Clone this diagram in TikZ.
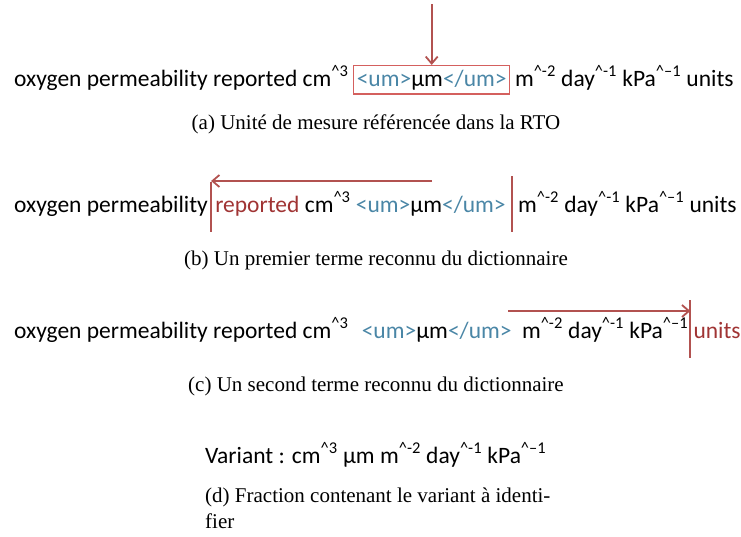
\documentclass[tikz,border=0pt]{standalone}
\usepackage{fontspec}
\setmainfont{Liberation Serif}
\newfontfamily\carlitofont{Carlito}
\usetikzlibrary{fit,arrows.meta}
\definecolor{linered}{RGB}{178,82,80}
\definecolor{boxred}{RGB}{212,96,94}
\definecolor{txtred}{RGB}{160,52,52}
\definecolor{txtblue}{RGB}{74,134,166}
\newcommand{\sups}[1]{\textsuperscript{\textasciicircum#1}}
\newcommand{\bl}[1]{\textcolor{txtblue}{#1}}
\newcommand{\rd}[1]{\textcolor{txtred}{#1}}
\tikzset{
  seg/.style={inner sep=0pt, anchor=base west, font=\carlitofont\fontsize{23.5}{28}\selectfont},
  capt/.style={inner sep=0pt, anchor=base, font=\fontsize{21}{26}\selectfont},
  arr/.style={draw=linered, line width=1.8pt, -{Straight Barb[length=7pt,width=12pt]}},
  bar/.style={draw=linered, line width=1.8pt},
}
\begin{document}
\begin{tikzpicture}[x=1pt,y=-1pt]
\useasboundingbox (0,0) rectangle (741,536);
% (a)
\node[seg] (a1) at (14,86) {oxygen permeability reported cm\sups{3}};
\node[seg] (a2) at ([xshift=8pt]a1.base east) {\bl{<um>}µm\bl{</um>}};
\node[seg] (a3) at ([xshift=8pt]a2.base east) {m\sups{-2} day\sups{-1} kPa\sups{–1} units};
\node[draw=boxred, line width=1.1pt, fit=(a2), inner xsep=3pt, inner ysep=4pt] (abox) {};
\coordinate (atop) at (abox.north |- 0,4);
\draw[arr] (atop) -- (abox.north);
\node[capt] (ca) at (376,129) {(a) Unité de mesure référencée dans la RTO};
% (b)
\node[seg] (b1) at (14,212) {oxygen permeability};
\node[seg] (b2) at ([xshift=7pt]b1.base east) {\rd{reported}};
\node[seg] (b3) at ([xshift=5pt]b2.base east) {cm\sups{3} \bl{<um>}µm\bl{</um>}};
\node[seg] (b4) at ([xshift=12pt]b3.base east) {m\sups{-2} day\sups{-1} kPa\sups{–1} units};
\coordinate (bl1) at ([xshift=3pt,yshift=30pt]b1.base east);
\coordinate (bl2) at ([xshift=3pt,yshift=-20pt]b1.base east);
\coordinate (br1) at ([xshift=6pt,yshift=36pt]b3.base east);
\coordinate (br2) at ([xshift=6pt,yshift=-20pt]b3.base east);
\draw[bar] (bl1) -- (bl2);
\draw[bar] (br1) -- (br2);
\coordinate (barr) at (432,181);
\draw[arr] (barr) -- (bl1 |- barr);
\node[capt] (cb) at (376,265) {(b) Un premier terme reconnu du dictionnaire};
% (c)
\node[seg] (c1) at (14,338) {oxygen permeability reported cm\sups{3}};
\node[seg] (c2) at ([xshift=13pt]c1.base east) {\bl{<um>}µm\bl{</um>}};
\node[seg] (c3) at ([xshift=10pt]c2.base east) {m\sups{-2} day\sups{-1} kPa\sups{–1}};
\node[seg] (c4) at ([xshift=5pt]c3.base east) {\rd{units}};
\coordinate (cl1) at ([xshift=2pt,yshift=38pt]c3.base east);
\coordinate (cl2) at ([xshift=2pt,yshift=-20pt]c3.base east);
\draw[bar] (cl1) -- (cl2);
\coordinate (carr) at (508,311);
\draw[arr] (carr) -- (cl1 |- carr);
\node[capt] (cc) at (376,391) {(c) Un second terme reconnu du dictionnaire};
% (d)
\node[seg] (d1) at (205,463) {Variant : cm\sups{3} µm m\sups{-2} day\sups{-1} kPa\sups{–1}};
\node[capt, anchor=base west, align=left] (cd) at (205,528) {(d) Fraction contenant le variant à identi-\\fier};
\end{tikzpicture}
\end{document}
